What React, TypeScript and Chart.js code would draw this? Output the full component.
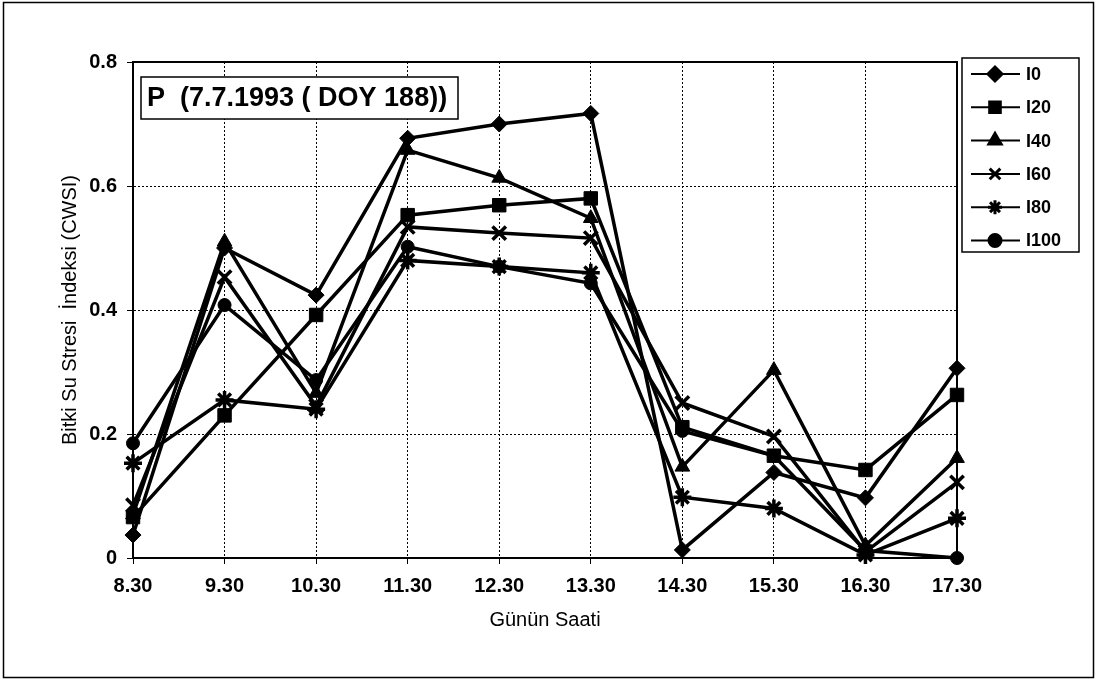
import React, { useEffect, useRef } from 'react';
import { Chart, registerables } from 'chart.js';
import { drawPoint } from 'chart.js/helpers';

Chart.register(...registerables);

const categories = ['8.30', '9.30', '10.30', '11.30', '12.30', '13.30', '14.30', '15.30', '16.30', '17.30'];
const seriesNames = ['I0', 'I20', 'I40', 'I60', 'I80', 'I100'];
const seriesI0 = [0.037, 0.5, 0.424, 0.677, 0.7, 0.717, 0.013, 0.138, 0.097, 0.306];
const seriesI20 = [0.066, 0.23, 0.392, 0.553, 0.569, 0.58, 0.211, 0.165, 0.142, 0.263];
const seriesI40 = [0.07, 0.51, 0.266, 0.658, 0.613, 0.548, 0.147, 0.303, 0.02, 0.161];
const seriesI60 = [0.085, 0.453, 0.245, 0.534, 0.524, 0.516, 0.25, 0.196, 0.01, 0.122];
const seriesI80 = [0.153, 0.255, 0.24, 0.48, 0.47, 0.46, 0.098, 0.08, 0.005, 0.064];
const seriesI100 = [0.185, 0.408, 0.287, 0.502, 0.47, 0.443, 0.205, 0.165, 0.012, 0.0];
const pointStyles = ['rectRot', 'rect', 'triangle', 'crossRot', 'star', 'circle'];
const pointSizes = [8, 9.5, 8.5, 9.5, 9, 6.5];
const legendSizes = [7, 7.5, 7, 7.5, 7, 6];
const yTickValues = [0, 0.2, 0.4, 0.6, 0.8];
const titleText = 'P  (7.7.1993 ( DOY 188))';
const xTitle = 'Günün Saati';
const yTitle = 'Bitki Su Stresi  İndeksi (CWSI)';

const FONT = "'Liberation Sans', Arial, sans-serif";

const decorPlugin = {
  id: 'decor',
  afterDraw(chart: any) {
    const ctx = chart.ctx as CanvasRenderingContext2D;
    const ca = chart.chartArea;
    ctx.save();
    ctx.strokeStyle = '#000';
    ctx.lineWidth = 2;
    ctx.setLineDash([]);
    ctx.strokeRect(ca.left, ca.top, ca.right - ca.left, ca.bottom - ca.top);
    ctx.lineWidth = 1.5;
    ctx.strokeRect(3.5, 2.5, 1090, 675);

    ctx.fillStyle = '#fff';
    ctx.fillRect(141, 77, 317, 42);
    ctx.lineWidth = 1.5;
    ctx.strokeRect(141, 77, 317, 42);
    ctx.fillStyle = '#000';
    ctx.font = `bold 27px ${FONT}`;
    ctx.textBaseline = 'middle';
    ctx.textAlign = 'left';
    ctx.fillText(titleText, 147, 99);

    const lx = 962, ly = 58, lw = 117, lh = 194;
    ctx.fillStyle = '#fff';
    ctx.fillRect(lx, ly, lw, lh);
    ctx.strokeRect(lx, ly, lw, lh);
    chart.data.datasets.forEach((ds: any, i: number) => {
      const y = ly + 16 + i * 33.3;
      ctx.strokeStyle = '#000';
      ctx.lineWidth = 2;
      ctx.beginPath();
      ctx.moveTo(971, y);
      ctx.lineTo(1020, y);
      ctx.stroke();
      ctx.fillStyle = '#000';
      ctx.lineWidth = 3;
      drawPoint(ctx, { pointStyle: ds.pointStyle, radius: legendSizes[i], rotation: 0, borderWidth: 3 } as any, 995, y);
      ctx.font = `bold 18px ${FONT}`;
      ctx.textAlign = 'left';
      ctx.textBaseline = 'middle';
      ctx.fillText(ds.label, 1026, y + 1);
    });
    ctx.restore();
  },
};

export default function App() {
  const ref = useRef<HTMLCanvasElement>(null);
  useEffect(() => {
    document.body.style.margin = '0';
    const values = [seriesI0, seriesI20, seriesI40, seriesI60, seriesI80, seriesI100];
    const chart = new Chart(ref.current as HTMLCanvasElement, {
      type: 'line',
      data: {
        labels: categories,
        datasets: seriesNames.map((name, i) => ({
          label: name,
          data: values[i],
          borderColor: '#000',
          backgroundColor: '#000',
          borderWidth: 3.5,
          pointStyle: pointStyles[i] as any,
          pointRadius: pointSizes[i],
          pointBackgroundColor: '#000',
          pointBorderColor: '#000',
          pointBorderWidth: pointStyles[i] === 'crossRot' || pointStyles[i] === 'star' ? 3.5 : 1,
          tension: 0,
          fill: false,
          clip: false as any,
        })),
      },
      options: {
        animation: false,
        responsive: false,
        maintainAspectRatio: false,
        layout: { padding: { left: 0, top: 62, right: 148, bottom: 0 } },
        plugins: { legend: { display: false }, tooltip: { enabled: false }, title: { display: false } },
        scales: {
          x: {
            type: 'category',
            offset: false,
            afterFit: (s: any) => { s.height = 123; },
            grid: { color: '#000', lineWidth: 1, tickLength: 6, drawTicks: true },
            border: { display: true, color: '#000', width: 2, dash: [2, 2] },
            ticks: { color: '#000', padding: 10, maxRotation: 0, font: { family: FONT, size: 20, weight: 'bold' } },
            title: { display: true, text: xTitle, color: '#000', padding: { bottom: 49 }, font: { family: FONT, size: 20 } },
          },
          y: {
            min: 0,
            max: 0.8,
            afterFit: (s: any) => { s.width = 133; },
            afterBuildTicks: (s: any) => { s.ticks = yTickValues.map((v) => ({ value: v })); },
            grid: { color: '#000', lineWidth: 1, tickLength: 6, drawTicks: true },
            border: { display: true, color: '#000', width: 2, dash: [2, 2] },
            ticks: {
              color: '#000',
              padding: 10,
              font: { family: FONT, size: 20, weight: 'bold' },
              callback: (v: any) => (Number(v) === 0 ? '0' : Number(v).toFixed(1)),
            },
            title: { display: true, text: yTitle, color: '#000', padding: { top: 58 }, font: { family: FONT, size: 20 } },
          },
        },
      },
      plugins: [decorPlugin],
    });
    return () => chart.destroy();
  }, []);
  return <canvas ref={ref} width={1105} height={681} style={{ display: 'block' }} />;
}
